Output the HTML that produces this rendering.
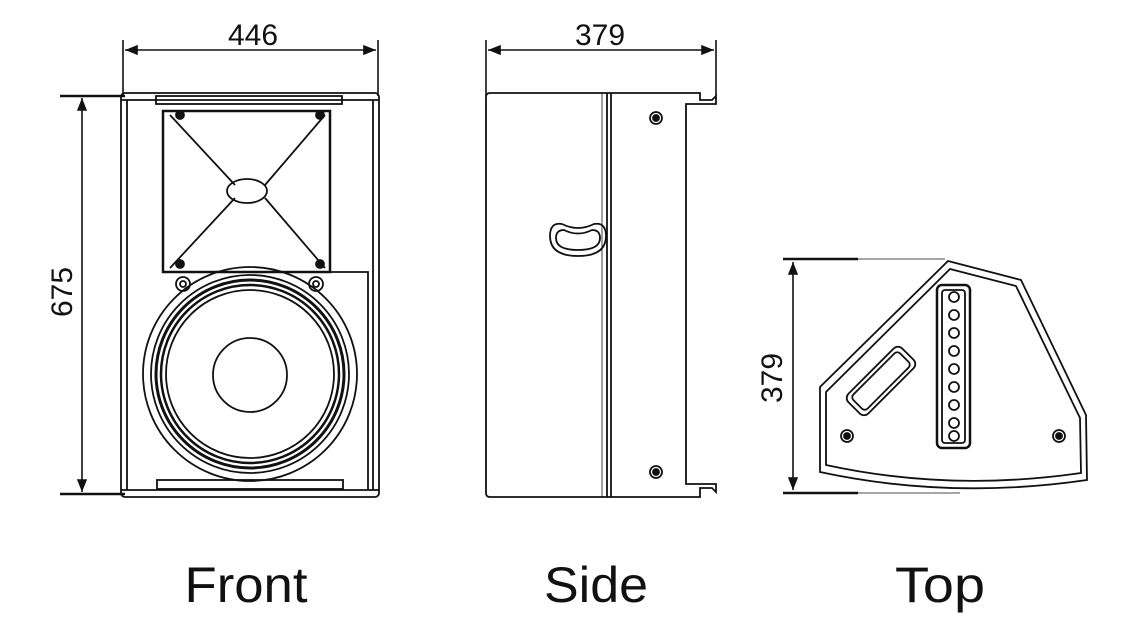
<!DOCTYPE html>
<html><head><style>body{margin:0;background:#fff}svg{display:block}</style></head><body>
<svg width="1147" height="633" viewBox="0 0 1147 633" xmlns="http://www.w3.org/2000/svg" font-family="Liberation Sans, sans-serif" fill="none" stroke="#111">
<defs><marker id="a" viewBox="0 0 10 10" refX="10" refY="5" markerWidth="8" markerHeight="8" orient="auto-start-reverse"><path d="M0,1L10,5L0,9z" fill="#111" stroke="none"/></marker></defs>
<!-- Front dims -->
<g stroke-width="1.6">
<line x1="123" y1="40" x2="123" y2="96"/><line x1="378" y1="40" x2="378" y2="96"/>
<line x1="125" y1="50" x2="376" y2="50" marker-start="url(#a)" marker-end="url(#a)"/>
<line x1="60" y1="96" x2="125" y2="96" stroke-width="2.5"/><line x1="60" y1="494" x2="125" y2="494" stroke-width="2.5"/>
<line x1="82" y1="98" x2="82" y2="492" marker-start="url(#a)" marker-end="url(#a)"/>
</g>
<text x="253" y="45" font-size="30" text-anchor="middle" fill="#111" stroke="none">446</text>
<text transform="translate(72,292) rotate(-90)" font-size="30" text-anchor="middle" fill="#111" stroke="none">675</text>
<!-- Front body -->
<g stroke-width="1.8">
<rect x="121" y="93" width="258" height="404" rx="4"/>
<line x1="127" y1="100" x2="127" y2="490"/><line x1="373" y1="100" x2="373" y2="490"/>
<line x1="121" y1="100" x2="379" y2="100"/><line x1="121" y1="490" x2="379" y2="490"/>
<rect x="156" y="96" width="186" height="8"/><rect x="157" y="480" width="186" height="9"/>
<rect x="163" y="111" width="167" height="161" stroke-width="2.5"/>
<path d="M330,272 H368 V490"/>
<path d="M170,115 L235,185 M325,115 L265,185 M170,268 L235,198 M325,268 L265,198"/>
<ellipse cx="247" cy="191" rx="20" ry="12"/>
<circle cx="180" cy="115" r="4" fill="#111"/><circle cx="320" cy="115" r="4" fill="#111"/>
<circle cx="180" cy="264" r="4" fill="#111"/><circle cx="320" cy="264" r="4" fill="#111"/>
<circle cx="183" cy="284" r="7"/><circle cx="183" cy="284" r="3"/>
<circle cx="316" cy="284" r="7"/><circle cx="316" cy="284" r="3"/>
<circle cx="250" cy="374" r="107"/>
<circle cx="250" cy="374" r="99"/>
<circle cx="250" cy="374" r="94" stroke-width="3"/>
<circle cx="250" cy="374" r="89" stroke-width="2.5"/>
<circle cx="250" cy="374" r="84"/>
<circle cx="250" cy="375" r="37"/>
</g>
<!-- Side -->
<g stroke-width="1.6">
<line x1="486" y1="40" x2="486" y2="96"/><line x1="716" y1="40" x2="716" y2="96"/>
<line x1="488" y1="50" x2="714" y2="50" marker-start="url(#a)" marker-end="url(#a)"/>
</g>
<text x="600" y="45" font-size="30" text-anchor="middle" fill="#111" stroke="none">379</text>
<g stroke-width="1.8">
<path d="M490,93 H700 V100 H712 L716,96 V104 H686 V484 H716 V492 L712,488 H700 V497 H490 Q486,497 486,493 V97 Q486,93 490,93 Z"/>
<line x1="607" y1="93" x2="607" y2="497"/><line x1="611" y1="93" x2="611" y2="497"/>
<line x1="602" y1="93" x2="602" y2="497" stroke-width="0.8"/>
<path d="M562,224 Q578,232 594,224 Q606,222 606,236 Q606,256 578,256 Q550,256 550,236 Q550,222 562,224 Z"/>
<path d="M564,230 Q578,237 592,230 Q600,230 600,238 Q600,250 578,250 Q556,250 556,238 Q556,230 564,230 Z"/>
<circle cx="656" cy="118" r="6"/><circle cx="656" cy="118" r="3" fill="#111"/>
<circle cx="656" cy="472" r="6"/><circle cx="656" cy="472" r="3" fill="#111"/>
</g>
<!-- Top dims -->
<g stroke-width="1.6">
<line x1="783" y1="259" x2="858" y2="259" stroke-width="2.5"/><line x1="858" y1="259" x2="945" y2="259" stroke-width="0.8"/>
<line x1="783" y1="493" x2="858" y2="493" stroke-width="2.5"/><line x1="858" y1="493" x2="960" y2="493" stroke-width="0.8"/>
<line x1="793" y1="262" x2="793" y2="490" marker-start="url(#a)" marker-end="url(#a)"/>
</g>
<text transform="translate(782,378) rotate(-90)" font-size="30" text-anchor="middle" fill="#111" stroke="none">379</text>
<g stroke-width="1.8">
<path d="M948,261 L1021,280 L1086,415 L1087,480 Q950,500 820,472 L820,387 Z"/>
<path d="M950,269 L1016,286 L1080,418 L1081,473 Q950,492 826,465 L826,392 Z"/>
<rect x="937" y="285" width="33" height="163" rx="5" stroke-width="2.5"/>
<rect x="942" y="290" width="23" height="153" rx="3"/>
<g>
<circle cx="954" cy="297" r="5"/><circle cx="954" cy="315" r="5"/><circle cx="954" cy="333" r="5"/>
<circle cx="954" cy="351" r="5"/><circle cx="954" cy="369" r="5"/><circle cx="954" cy="387" r="5"/>
<circle cx="954" cy="405" r="5"/><circle cx="954" cy="423" r="5"/><circle cx="954" cy="436" r="5"/>
</g>
<g transform="translate(881,381) rotate(-45)">
<rect x="-38" y="-14" width="76" height="28" rx="6"/>
<rect x="-33" y="-10" width="66" height="20" rx="4"/>
</g>
<circle cx="847" cy="436" r="6"/><circle cx="847" cy="436" r="3" fill="#111"/>
<circle cx="1059" cy="436" r="6"/><circle cx="1059" cy="436" r="3" fill="#111"/>
</g>
<g fill="#111" stroke="none" font-size="50" text-anchor="middle">
<text x="246" y="602" textLength="123" lengthAdjust="spacingAndGlyphs">Front</text><text x="596" y="602" textLength="104" lengthAdjust="spacingAndGlyphs">Side</text><text x="940" y="602" textLength="90" lengthAdjust="spacingAndGlyphs">Top</text>
</g>
</svg>
</body></html>
